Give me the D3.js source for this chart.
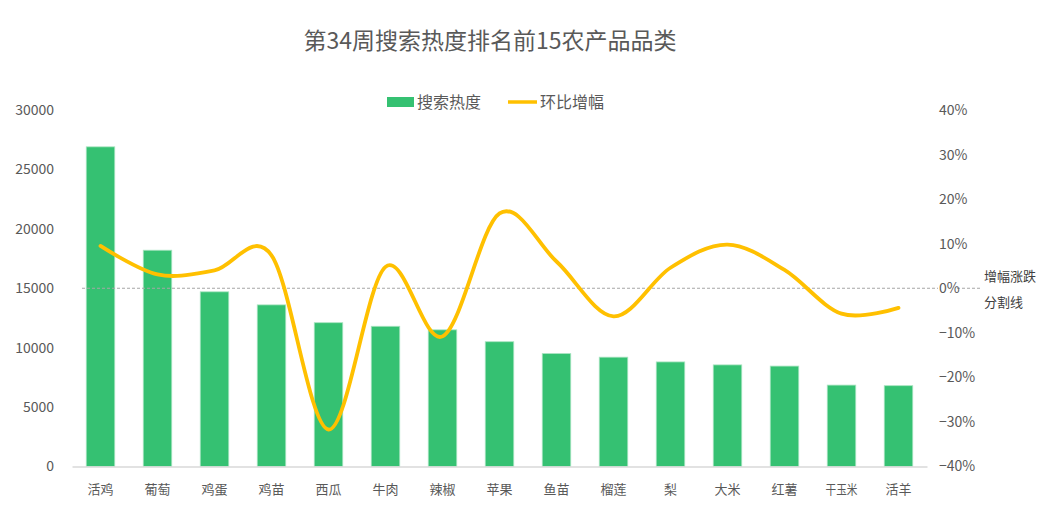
<!DOCTYPE html>
<html>
<head>
<meta charset="utf-8">
<script src="https://cdn.jsdelivr.net/npm/d3@7"></script>
<style>
  body { margin: 0; background: #fff; }
  text { font-family: "Noto Sans CJK SC", "Noto Sans", sans-serif; }
</style>
</head>
<body>
<div id="chart"></div>
<script>
const width = 1052;
const height = 528;

const categories = ["活鸡", "葡萄", "鸡蛋", "鸡苗", "西瓜", "牛肉", "辣椒", "苹果",
    "鱼苗", "榴莲", "梨", "大米", "红薯", "干玉米", "活羊"];
const heat = [26900, 18200, 14700, 13600, 12100, 11800, 11500, 10500,
    9500, 9200, 8800, 8550, 8450, 6850, 6800];
const change = [0.095, 0.031, 0.040, 0.074, -0.317, 0.048, -0.108, 0.168,
    0.060, -0.063, 0.046, 0.098, 0.041, -0.057, -0.044];
const leftTicks = [0, 5000, 10000, 15000, 20000, 25000, 30000];
const rightTicks = [-0.4, -0.3, -0.2, -0.1, 0, 0.1, 0.2, 0.3, 0.4];

const svg = d3.select("#chart")
    .append("svg")
    .attr("width", width)
    .attr("height", height);

const x = d3.scaleBand()
    .domain(categories)
    .range([72, 927])
    .paddingInner(0.5)
    .paddingOuter(0.25);

const yLeft = d3.scaleLinear().domain([0, 30000]).range([466.5, 110]);
const yRight = d3.scaleLinear().domain([-0.4, 0.4]).range([466.5, 110]);

// title
svg.append("text")
    .attr("x", 490)
    .attr("y", 49)
    .attr("text-anchor", "middle")
    .style("font-size", "23px")
    .style("fill", "#595959")
    .text("第34周搜索热度排名前15农产品品类");

// left axis
const axisL = svg.append("g")
    .attr("transform", "translate(72,0)")
    .call(d3.axisLeft(yLeft).tickValues(leftTicks).tickSize(0).tickPadding(18).tickFormat(d3.format("d")));
axisL.select(".domain").remove();
axisL.selectAll("text").style("font-size", "14px").style("fill", "#595959")
    .style("font-family", "'Noto Sans CJK SC', sans-serif");

// right axis
const axisR = svg.append("g")
    .attr("transform", "translate(927,0)")
    .call(d3.axisRight(yRight).tickValues(rightTicks).tickSize(0).tickPadding(12).tickFormat(d3.format(".0%")));
axisR.select(".domain").remove();
axisR.selectAll("text").style("font-size", "14px").style("fill", "#595959")
    .style("font-family", "'Noto Sans CJK SC', sans-serif");

// bars
svg.append("g").selectAll("rect")
    .data(categories)
    .enter()
    .append("rect")
    .attr("x", d => x(d))
    .attr("width", x.bandwidth())
    .attr("y", (d, i) => yLeft(heat[i]))
    .attr("height", (d, i) => yLeft(0) - yLeft(heat[i]))
    .style("fill", "#35c172")
    .style("stroke", "#a8e4c0")
    .style("stroke-width", 0.8);

// x axis
const axisX = svg.append("g")
    .attr("transform", "translate(0,466.5)")
    .call(d3.axisBottom(x).tickSize(0).tickPadding(18));
axisX.select(".domain").style("stroke", "#d9d9d9").style("stroke-width", 1.5);
axisX.selectAll("text").style("font-size", "13px").style("fill", "#595959")
    .style("font-family", "'Noto Sans CJK SC', sans-serif");
// the three-character label is squeezed into the same space
axisX.selectAll("text").filter(d => d.length > 2)
    .attr("textLength", 32)
    .attr("lengthAdjust", "spacingAndGlyphs");

// zero divider
svg.append("line")
    .attr("x1", 82)
    .attr("x2", 980)
    .attr("y1", yRight(0))
    .attr("y2", yRight(0))
    .style("stroke", "#a6a6a6")
    .style("stroke-width", 1)
    .style("stroke-dasharray", "3,2");

// keep 0% label readable over the divider
axisR.selectAll(".tick").filter(d => d === 0)
    .insert("rect", "text")
    .attr("x", 938 - 927)
    .attr("y", -9)
    .attr("width", 19)
    .attr("height", 18)
    .style("fill", "#fff");
axisR.raise();

// change line
const line = d3.line()
    .x((d, i) => x(categories[i]) + x.bandwidth() / 2)
    .y(d => yRight(d))
    .curve(d3.curveCardinal.tension(0));

svg.append("path")
    .datum(change)
    .attr("d", line)
    .style("fill", "none")
    .style("stroke", "#ffc000")
    .style("stroke-width", 3.8)
    .style("stroke-linecap", "round");

// divider note
svg.append("text").attr("x", 984).attr("y", 281)
    .style("font-size", "13px").style("fill", "#404040").text("增幅涨跌");
svg.append("text").attr("x", 984).attr("y", 307)
    .style("font-size", "13px").style("fill", "#404040").text("分割线");

// legend
const legend = svg.append("g");
legend.append("rect")
    .attr("x", 387).attr("y", 97).attr("width", 27).attr("height", 10)
    .style("fill", "#35c172");
legend.append("text").attr("x", 417).attr("y", 108)
    .style("font-size", "16px").style("fill", "#595959").text("搜索热度");
legend.append("line")
    .attr("x1", 508).attr("x2", 537).attr("y1", 102).attr("y2", 102)
    .style("stroke", "#ffc000").style("stroke-width", 3.5);
legend.append("text").attr("x", 540).attr("y", 108)
    .style("font-size", "16px").style("fill", "#595959").text("环比增幅");
</script>
</body>
</html>
